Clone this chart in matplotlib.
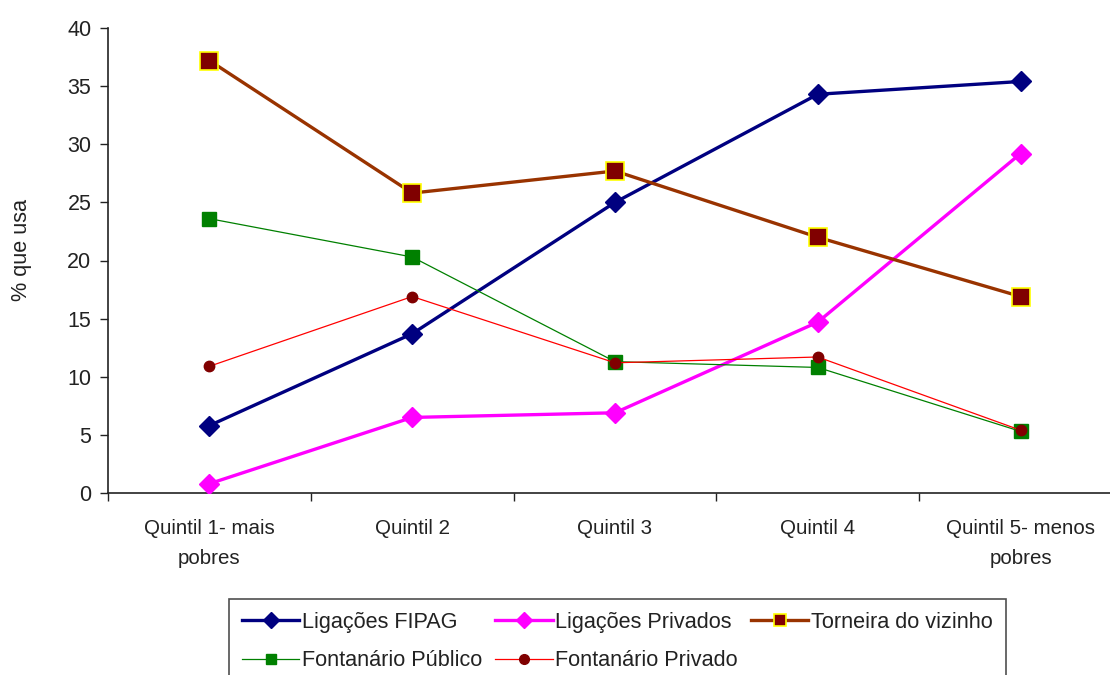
import matplotlib
matplotlib.use("Agg")
import matplotlib.pyplot as plt
import numpy as np

plt.rcParams['font.family'] = ['Liberation Sans', 'DejaVu Sans']

categories = ["Quintil 1- mais\npobres", "Quintil 2", "Quintil 3", "Quintil 4", "Quintil 5- menos\npobres"]
lig_fipag = [5.8, 13.7, 25.0, 34.3, 35.4]
lig_privados = [0.8, 6.5, 6.9, 14.7, 29.2]
torneira = [37.2, 25.8, 27.7, 22.0, 16.9]
font_publico = [23.6, 20.3, 11.3, 10.8, 5.3]
font_privado = [10.9, 16.9, 11.2, 11.7, 5.4]
yticks = [0, 5, 10, 15, 20, 25, 30, 35, 40]

fig = plt.figure(figsize=(11.1, 6.75), dpi=100)
ax = fig.add_axes([108/1110, 1-493/675, 1014/1110, (493-28)/675])
x = np.arange(len(categories))

h1, = ax.plot(x, lig_fipag, color='#000080', lw=2.4, marker='D', ms=10.5,
              mfc='#000080', mec='#000080', label='Ligações FIPAG', zorder=3)
h2, = ax.plot(x, lig_privados, color='#FF00FF', lw=2.4, marker='D', ms=10.5,
              mfc='#FF00FF', mec='#FF00FF', label='Ligações Privados', zorder=4)
h3, = ax.plot(x, torneira, color='#993300', lw=2.4, marker='s', ms=12.5,
              mfc='#800000', mec='#FFFF00', mew=1.2, label='Torneira do vizinho', zorder=5)
h4, = ax.plot(x, font_publico, color='#008000', lw=0.9, marker='s', ms=9.5,
              mfc='#008000', mec='#008000', label='Fontanário Público', zorder=6)
h5, = ax.plot(x, font_privado, color='#FF0000', lw=0.9, marker='o', ms=7.5,
              mfc='#800000', mec='#800000', label='Fontanário Privado', zorder=7)

ax.set_xlim(-0.5, len(categories) - 0.5)
ax.set_ylim(0, 40)
ax.set_yticks(yticks)
ax.tick_params(axis='y', labelsize=15.5, direction='out', length=5.5, width=1, colors='#222222', pad=6.5)
ax.set_xticks(np.arange(-0.5, len(categories), 1.0))
ax.set_xticklabels([])
ax.tick_params(axis='x', which='major', direction='out', length=6, width=1, colors='#222222')
ax.set_xticks(x, minor=True)
ax.set_xticklabels(categories, minor=True, fontsize=14.8)
ax.tick_params(axis='x', which='minor', length=0, pad=19, labelcolor='#222222')
for lab in ax.get_xticklabels(minor=True):
    lab.set_linespacing(1.72)

for s in ['top', 'right']:
    ax.spines[s].set_visible(False)
for s in ['left', 'bottom']:
    ax.spines[s].set_color('#222222')
    ax.spines[s].set_linewidth(1.2)

fig.text(22/1110, 1-250/675, '% que usa', rotation=90, fontsize=15.6, va='center', ha='center', color='#222222')

handles = [h1, h4, h2, h5, h3]
leg = fig.legend(handles=handles, labels=[h.get_label() for h in handles], ncol=3,
                 loc='upper left', bbox_to_anchor=(229/1110, 1-599/675), bbox_transform=fig.transFigure,
                 fontsize=15.6, numpoints=1, handlelength=2.65, handletextpad=0.12, columnspacing=0.6,
                 labelspacing=0.8, borderpad=0.6, frameon=True, fancybox=False, borderaxespad=0)
leg.get_frame().set_edgecolor('#222222')
leg.get_frame().set_linewidth(1.2)
for t in leg.get_texts():
    t.set_color('#222222')
leg_ms = [8, 7, 8, 7, 8.5]
for lh, m in zip(leg.legend_handles, leg_ms):
    lh.set_markersize(m)

fig.savefig('out.png', dpi=100)
